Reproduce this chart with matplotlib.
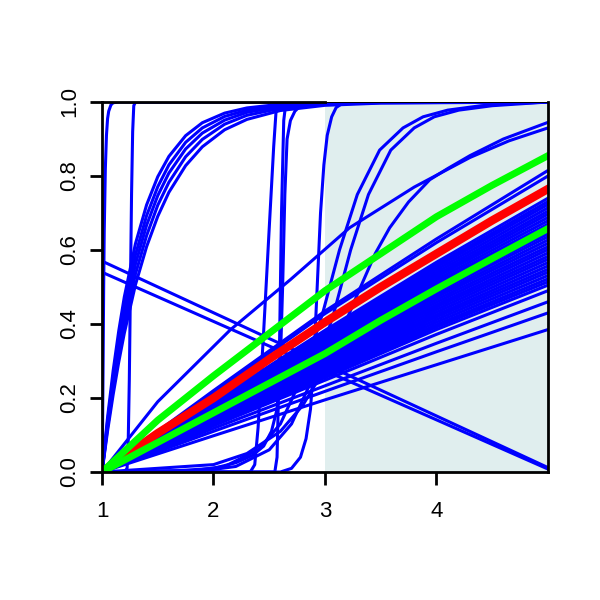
import matplotlib
matplotlib.use("Agg")
import matplotlib.pyplot as plt
from matplotlib.patches import Rectangle

plt.rcParams['font.family'] = ['Liberation Sans', 'DejaVu Sans']

# ---- data ----
x_ticks = [1, 2, 3, 4]
y_ticks = [0.0, 0.2, 0.4, 0.6, 0.8, 1.0]
y_tick_labels = ["0.0", "0.2", "0.4", "0.6", "0.8", "1.0"]

shade_x = [3, 5]
shade_y = [0, 1]

# fan of blue curves, values at x = 1..5
fan_x = [1, 2, 3, 4, 5]
fan_rows = [
    [0, 0.220, 0.435, 0.630, 0.815],
    [0, 0.215, 0.428, 0.620, 0.800],
    [0, 0.190, 0.383, 0.567, 0.740],
    [0, 0.188, 0.378, 0.560, 0.731],
    [0, 0.186, 0.374, 0.554, 0.723],
    [0, 0.183, 0.369, 0.547, 0.714],
    [0, 0.181, 0.364, 0.540, 0.705],
    [0, 0.179, 0.359, 0.533, 0.697],
    [0, 0.177, 0.355, 0.527, 0.688],
    [0, 0.174, 0.350, 0.520, 0.679],
    [0, 0.172, 0.345, 0.513, 0.670],
    [0, 0.170, 0.340, 0.506, 0.662],
    [0, 0.168, 0.336, 0.500, 0.653],
    [0, 0.166, 0.331, 0.493, 0.644],
    [0, 0.163, 0.326, 0.486, 0.636],
    [0, 0.161, 0.321, 0.479, 0.627],
    [0, 0.159, 0.317, 0.473, 0.618],
    [0, 0.157, 0.312, 0.466, 0.609],
    [0, 0.154, 0.307, 0.459, 0.601],
    [0, 0.152, 0.302, 0.452, 0.592],
    [0, 0.150, 0.298, 0.446, 0.583],
    [0, 0.148, 0.293, 0.439, 0.575],
    [0, 0.146, 0.288, 0.432, 0.566],
    [0, 0.143, 0.283, 0.425, 0.557],
    [0, 0.141, 0.279, 0.419, 0.548],
    [0, 0.139, 0.274, 0.412, 0.540],
    [0, 0.137, 0.269, 0.405, 0.531],
    [0, 0.134, 0.264, 0.398, 0.522],
    [0, 0.132, 0.260, 0.392, 0.514],
    [0, 0.130, 0.255, 0.385, 0.505],
    [0, 0.125, 0.248, 0.372, 0.490],
    [0, 0.118, 0.233, 0.348, 0.460],
    [0, 0.110, 0.218, 0.325, 0.430],
    [0, 0.098, 0.195, 0.290, 0.385],
]

# fast rising curves near the left
rise_x = [1, 1.05, 1.1, 1.15, 1.2, 1.3, 1.4, 1.5, 1.6, 1.75, 1.9, 2.1,
          2.3, 2.6, 3.0, 3.5, 5]
rise_rows = [
    [0, .148, .274, .381, .473, .617, .722, .798, .853, .909, .944, .970,
     .984, .994, .998, 1, 1],
    [0, .137, .255, .358, .446, .587, .693, .771, .830, .891, .930, .961,
     .978, .991, .997, .999, 1],
    [0, .128, .240, .338, .423, .562, .667, .747, .808, .873, .916, .951,
     .972, .988, .996, .999, 1],
    [0, .120, .225, .318, .399, .535, .639, .721, .783, .852, .899, .940,
     .964, .983, .994, .998, 1],
    [0, .111, .209, .297, .375, .506, .609, .691, .756, .828, .879, .925,
     .953, .977, .991, .997, 1],
]

# steep sigmoids
sig1_x = [1, 1.005, 1.01, 1.015, 1.02, 1.03, 1.04, 1.05, 1.06, 1.08, 1.1, 1.15, 5]
sig1_y = [0, 0.12, 0.30, 0.50, 0.65, 0.82, 0.91, 0.955, 0.975, 0.992, 0.998, 1, 1]
sig2_x = [1, 1.2, 1.225, 1.235, 1.245, 1.255, 1.265, 1.275, 1.285, 1.3, 5]
sig2_y = [0, 0, 0.01, 0.08, 0.25, 0.50, 0.75, 0.92, 0.99, 1, 1]
sig3_x = [1, 2.33, 2.37, 2.40, 2.45, 2.50, 2.54, 2.56, 2.58, 5]
sig3_y = [0, 0, 0.02, 0.12, 0.38, 0.66, 0.88, 0.97, 1, 1]
sig4_x = [1, 2.55, 2.57, 2.59, 2.6, 2.61, 2.63, 2.65, 5]
sig4_y = [0, 0, 0.04, 0.30, 0.50, 0.70, 0.95, 1, 1]
sig5_x = [1, 1.7, 2.0, 2.2, 2.35, 2.45, 2.52, 2.57, 2.6, 2.62, 2.64, 2.66,
          2.69, 2.73, 2.78, 2.85, 5]
sig5_y = [0, 0.004, 0.01, 0.025, 0.045, 0.07, 0.11, 0.17, 0.30, 0.50, 0.75,
          0.90, 0.95, 0.975, 0.99, 1, 1]
sig6_x = [1, 2.6, 2.7, 2.78, 2.83, 2.87, 2.9, 2.93, 2.96, 2.99, 3.02, 3.06,
          3.1, 3.15, 3.22, 5]
sig6_y = [0, 0, 0.01, 0.04, 0.09, 0.17, 0.30, 0.50, 0.70, 0.83, 0.91, 0.96,
          0.985, 0.995, 1, 1]

# slower curves in the shaded part
slow1_x = [1, 1.8, 2.1, 2.4, 2.6, 2.8, 2.98, 3.13, 3.29, 3.49, 3.7, 3.88,
           4.1, 4.4, 4.7, 5]
slow1_y = [0, 0.003, 0.015, 0.06, 0.13, 0.26, 0.43, 0.60, 0.75, 0.87, 0.93,
           0.96, 0.978, 0.99, 0.996, 1.0]
slow2_x = [1, 1.9, 2.2, 2.5, 2.7, 2.9, 3.08, 3.23, 3.39, 3.59, 3.8, 3.98,
           4.2, 4.5, 4.8, 5]
slow2_y = [0, 0.003, 0.015, 0.06, 0.13, 0.26, 0.43, 0.60, 0.75, 0.87, 0.93,
           0.96, 0.978, 0.99, 0.996, 1.0]
slow3_x = [1, 2.0, 2.3, 2.6, 2.8, 3.0, 3.15, 3.29, 3.45, 3.58, 3.75, 3.94,
           4.1, 4.3, 4.6, 5]
slow3_y = [0, 0.02, 0.05, 0.11, 0.18, 0.28, 0.38, 0.48, 0.59, 0.66, 0.73,
           0.79, 0.82, 0.855, 0.90, 0.945]
line_n_x = [1, 1.5, 2.15, 2.69, 3.22, 3.8, 4.3, 4.65, 5]
line_n_y = [0, 0.19, 0.384, 0.52, 0.66, 0.77, 0.85, 0.895, 0.93]

# falling lines
fall_x = [1, 5]
fall1_y = [0.57, 0.012]
fall2_y = [0.54, 0.008]

# highlighted curves
hl_x = [1, 1.5, 2, 2.5, 3, 3.5, 4, 4.5, 5]
red_y = [0, 0.105, 0.20, 0.305, 0.405, 0.50, 0.59, 0.68, 0.765]
green_up_y = [0, 0.14, 0.26, 0.375, 0.49, 0.59, 0.69, 0.775, 0.855]
green_low_y = [0, 0.08, 0.16, 0.24, 0.32, 0.41, 0.495, 0.577, 0.658]

BLUE = "#0000ff"
blue_lw = 2.2

fig = plt.figure(figsize=(6, 6), dpi=100)
ax = fig.add_axes([0.17, 0.2133, 0.7433, 0.6167])

ax.add_patch(Rectangle((shade_x[0], shade_y[0]), shade_x[1] - shade_x[0],
                       shade_y[1] - shade_y[0], facecolor="#e0eeee",
                       edgecolor="none", zorder=0.5))

for row in fan_rows:
    ax.plot(fan_x, row, color=BLUE, lw=blue_lw)
for row in rise_rows:
    ax.plot(rise_x, row, color=BLUE, lw=blue_lw)
for xs, ys in [(sig1_x, sig1_y), (sig2_x, sig2_y), (sig3_x, sig3_y),
               (sig4_x, sig4_y), (sig5_x, sig5_y), (sig6_x, sig6_y),
               (slow1_x, slow1_y), (slow2_x, slow2_y), (slow3_x, slow3_y),
               (line_n_x, line_n_y), (fall_x, fall1_y), (fall_x, fall2_y)]:
    ax.plot(xs, ys, color=BLUE, lw=blue_lw)

ax.plot(hl_x, red_y, color="#ff0000", lw=6)
ax.plot(hl_x, green_up_y, color="#00ff00", lw=5)
ax.plot(hl_x, green_low_y, color="#00ff00", lw=5)

ax.set_xlim(1, 5)
ax.set_ylim(0, 1)
ax.set_xticks(x_ticks)
ax.set_yticks(y_ticks)
ax.set_yticklabels(y_tick_labels, rotation=90, va="center")
ax.tick_params(length=9, width=2, labelsize=16, direction="out")
ax.tick_params(axis="x", pad=12)
ax.tick_params(axis="y", pad=6.5)
for s in ax.spines.values():
    s.set_linewidth(2)
ax.spines["top"].set_bounds(1, 3)
ax.plot([3, 5], [1, 1], color="black", lw=0.7, clip_on=False, zorder=3)

fig.savefig("out.png", dpi=100)
